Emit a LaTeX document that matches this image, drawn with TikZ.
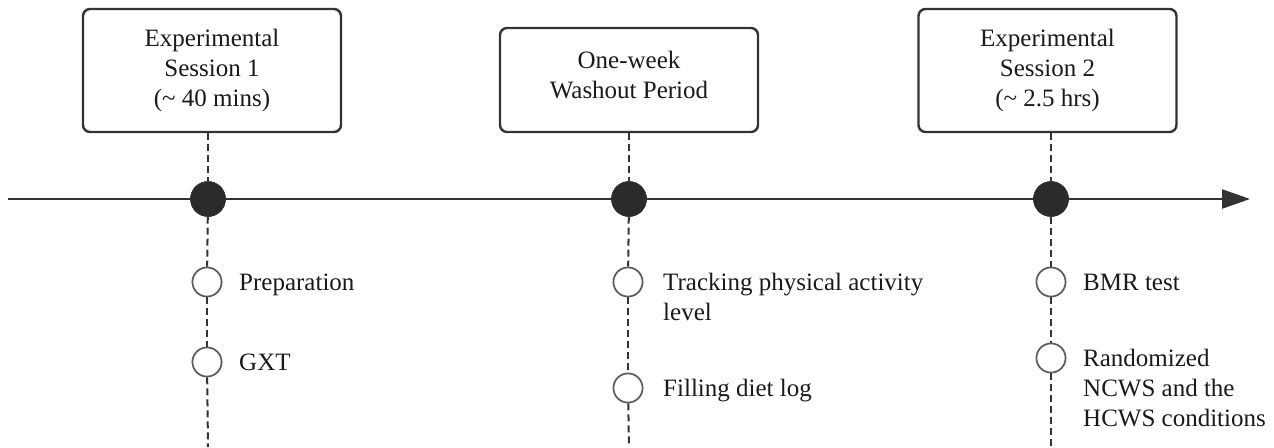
\documentclass[tikz,border=0pt]{standalone}
\usepackage{fontspec}
\setmainfont{Liberation Serif}
\usetikzlibrary{arrows.meta}
\definecolor{ink}{HTML}{333333}
\definecolor{txt}{HTML}{1A1A1A}
\tikzset{
  every node/.style={text=txt, font=\fontsize{25}{30}\selectfont},
  phase/.style={draw=ink, line width=2.4pt, rounded corners=7pt, fill=white,
    minimum width=258pt, minimum height=123pt, align=center, inner sep=0pt},
  bigdot/.style={circle, fill=ink!85!black, draw=ink, minimum size=35pt, inner sep=0pt},
  stepdot/.style={circle, fill=white, draw=ink!80, line width=1.6pt, minimum size=29pt, inner sep=0pt},
  vdash/.style={draw=ink, line width=2pt, dash pattern=on 7pt off 4pt},
  axis/.style={draw=ink, line width=2.4pt, -{Triangle[length=28pt, width=19pt]}},
  lab/.style={anchor=base west, align=left, inner sep=0pt},
}
\begin{document}
\begin{tikzpicture}[x=1pt, y=-1pt]
\useasboundingbox (0,0) rectangle (1274,447);
% boxes
\node[phase] (b1) at (212,70.5) {Experimental\\Session 1\\(\textasciitilde{} 40 mins)};
\node[phase, minimum height=104pt, text depth=10pt] (b2) at (629,80) {One-week\\Washout Period};
\node[phase] (b3) at (1047.5,70.5) {Experimental\\Session 2\\(\textasciitilde{} 2.5 hrs)};
% timeline
\coordinate (ts) at (8,199);
\coordinate (te) at (1250,199);
\draw[axis] (ts) -- (te);
% dots
\node[bigdot] (d1) at (208,199) {};
\node[bigdot] (d2) at (629,199) {};
\node[bigdot] (d3) at (1051,199) {};
% step circles
\node[stepdot] (c11) at (207,282) {};
\node[stepdot] (c12) at (207,362) {};
\node[stepdot] (c21) at (628,282) {};
\node[stepdot] (c22) at (628,388) {};
\node[stepdot] (c31) at (1051,282) {};
\node[stepdot] (c32) at (1051,358) {};
% bottom ends
\coordinate (e1) at (208,447);
\coordinate (e2) at (629,447);
\coordinate (e3) at (1051,447);
% dashed connectors
\draw[vdash] (b1.south -| d1) -- (d1);
\draw[vdash] (d1) -- (c11);
\draw[vdash] (c11) -- (c12);
\draw[vdash] (c12) -- (e1);
\draw[vdash] (b2.south -| d2) -- (d2);
\draw[vdash] (d2) -- (c21);
\draw[vdash] (c21) -- (c22);
\draw[vdash] (c22) -- (e2);
\draw[vdash] (b3.south -| d3) -- (d3);
\draw[vdash] (d3) -- (c31);
\draw[vdash] (c31) -- (c32);
\draw[vdash] (c32) -- (e3);
% redraw nodes on top
\node[bigdot] at (d1) {};
\node[bigdot] at (d2) {};
\node[bigdot] at (d3) {};
\node[stepdot] at (c11) {};
\node[stepdot] at (c12) {};
\node[stepdot] at (c21) {};
\node[stepdot] at (c22) {};
\node[stepdot] at (c31) {};
\node[stepdot] at (c32) {};
% labels (base = baseline of last line)
\node[lab] (l11) at (239,290) {Preparation};
\node[lab] (l12) at (239,370) {GXT};
\node[lab] (l21) at (663,320) {Tracking physical activity\\level};
\node[lab] (l22) at (663,396) {Filling diet log};
\node[lab] (l31) at (1083,290) {BMR test};
\node[lab] (l32) at (1083,426) {Randomized\\NCWS and the\\HCWS conditions};
\end{tikzpicture}
\end{document}
